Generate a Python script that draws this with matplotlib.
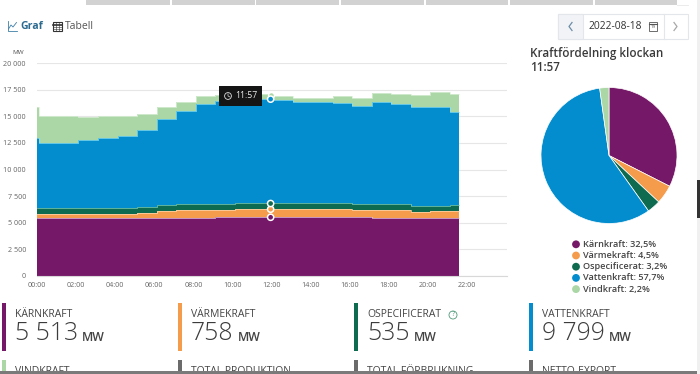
import numpy as np
import matplotlib
matplotlib.use('Agg')
import matplotlib.pyplot as plt
from matplotlib.patches import Rectangle, Circle

plt.rcParams['font.family'] = ['Open Sans', 'DejaVu Sans']

# Hourly production per type, MW (first entry is the start spike at 00:00, last repeats for the end)
times = [0, 0.08, 1.12, 2.12, 3.12, 4.12, 5.12, 6.12, 7.12, 8.12, 9.12, 10.12,
         11.12, 12.12, 13.12, 14.12, 15.12, 16.12, 17.12, 18.12, 19.12, 20.12, 21.12, 21.6]
karnkraft = [5480, 5480, 5480, 5480, 5480, 5480, 5440, 5470, 5480, 5490, 5500, 5500,
             5510, 5510, 5510, 5510, 5510, 5500, 5490, 5480, 5440, 5450, 5400, 5400]
varmekraft = [340, 340, 340, 340, 340, 340, 440, 630, 720, 710, 730, 790,
              780, 760, 760, 760, 760, 700, 710, 720, 540, 620, 700, 700]
ospecificerat = [530, 530, 530, 530, 530, 530, 560, 540, 530, 530, 530, 540,
                 540, 560, 560, 560, 560, 580, 600, 530, 560, 500, 550, 550]
vattenkraft = [6600, 6150, 6150, 6380, 6610, 6800, 7300, 8100, 8760, 9420, 9700, 9670,
               9820, 9730, 9510, 9470, 9460, 9180, 9510, 9420, 9330, 9300, 8720, 8720]
vindkraft = [2950, 2500, 2500, 2220, 2040, 1850, 1440, 1130, 880, 720, 540, 500,
             400, 340, 340, 400, 580, 790, 910, 950, 1130, 1410, 1730, 1730]

names = ['Kärnkraft', 'Värmekraft', 'Ospecificerat', 'Vattenkraft', 'Vindkraft']
colors = ['#761868', '#F59B4C', '#0E6B4F', '#048DCE', '#ABD6A6']
edge_colors = ['#E9C9E4', '#FBD9B4', '#7FD0C0', '#8FE0F0', '#DDF0DA']
pie_pct = [32.5, 4.5, 3.2, 57.7, 2.2]
pct_labels = ['32,5%', '4,5%', '3,2%', '57,7%', '2,2%']

now_hour = 11.95
now_label = '11:57'
now_mw = [5513, 758, 535, 9799, 373]

y_ticks = [0, 2500, 5000, 7500, 10000, 12500, 15000, 17500, 20000]
y_labels = ['0', '2 500', '5 000', '7 500', '10 000', '12 500', '15 000', '17 500', '20 000']
x_ticks = [0, 2, 4, 6, 8, 10, 12, 14, 16, 18, 20, 22]
x_labels = ['00:00', '02:00', '04:00', '06:00', '08:00', '10:00', '12:00', '14:00',
            '16:00', '18:00', '20:00', '22:00']

card_titles = ['KÄRNKRAFT', 'VÄRMEKRAFT', 'OSPECIFICERAT', 'VATTENKRAFT']
card_values = ['5 513', '758', '535', '9 799']
card_colors = [colors[0], colors[1], colors[2], colors[3]]
card_titles2 = ['VINDKRAFT', 'TOTAL PRODUKTION', 'TOTAL FÖRBRUKNING', 'NETTO-EXPORT']
card_colors2 = [colors[4], '#6b6b6b', '#6b6b6b', '#6b6b6b']
card_x = [2, 178, 354, 529]

W, H = 700, 374
fig = plt.figure(figsize=(7.0, 3.74), dpi=100)


def px_axes(left, top, right, bottom, **kw):
    return fig.add_axes([left / W, 1 - bottom / H, (right - left) / W, (bottom - top) / H], **kw)


# page overlay, in pixels
page = px_axes(0, 0, W, H)
page.set_xlim(0, W)
page.set_ylim(H, 0)
page.axis('off')

# main chart
ax = px_axes(37, 63, 507, 276)
ax.set_xlim(0, 470 / 19.55)
ax.set_ylim(0, 20000)
ax.patch.set_alpha(0)
bottom = np.zeros(len(times))
for vals, c, ec in zip([karnkraft, varmekraft, ospecificerat, vattenkraft, vindkraft], colors, edge_colors):
    top = bottom + np.array(vals)
    ax.fill_between(times, bottom, top, step='post', color=c, lw=0, zorder=2)
    ax.step(times, top, where='post', color=ec, lw=0.5, zorder=3)
    bottom = top
ax.set_yticks(y_ticks)
ax.set_yticklabels(y_labels)
ax.set_xticks(x_ticks)
ax.set_xticklabels(x_labels)
ax.tick_params(axis='both', length=0, labelsize=5.2, labelcolor='#666666', pad=4)
ax.tick_params(axis='y', pad=8)
ax.grid(axis='y', color='#e6e6e6', lw=0.8, zorder=0)
for s in ['top', 'right', 'left']:
    ax.spines[s].set_visible(False)
ax.spines['bottom'].set_color('#d8d8d8')
ax.spines['bottom'].set_linewidth(0.8)

# hover markers, blue on top of the wind one
stacked = np.cumsum(now_mw)
ax.scatter([now_hour], [stacked[4]], s=18, c=[colors[4]], edgecolors='white', linewidths=1.0, zorder=5)
ax.scatter([now_hour] * 4, stacked[:4], s=20, c=colors[:4], edgecolors='white', linewidths=1.1, zorder=6)

page.text(18, 52.5, 'MW', fontsize=4.6, color='#555555', ha='center', va='center')

# tooltip
ax_tip = px_axes(219, 86, 262, 105.5)
ax_tip.set_xlim(219, 262)
ax_tip.set_ylim(105.5, 86)
ax_tip.axis('off')
ax_tip.add_patch(Rectangle((219, 86), 43, 19.5, color='#151515'))
ax_tip.add_patch(Circle((228, 96), 3.4, fill=False, ec='#dddddd', lw=0.6))
ax_tip.plot([228, 228, 230], [93.8, 96, 97], color='#dddddd', lw=0.5)
ax_tip.text(235, 96, now_label, color='#eeeeee', fontsize=6.2, va='center', ha='left')

# pie
pie = px_axes(541, 87.5, 677, 223.5)
pie.pie(pie_pct, colors=colors, startangle=90, counterclock=False, radius=1,
        wedgeprops={'edgecolor': 'white', 'linewidth': 0.5})
pie.set_xlim(-1, 1)
pie.set_ylim(-1, 1)

page.text(530, 53.5, 'Kraftfördelning klockan', fontsize=8.35, fontweight='semibold', color='#3a3a3a', va='center')
page.text(530, 67, now_label, fontsize=8.35, fontweight='semibold', color='#3a3a3a', va='center')

for i, (n, c, p) in enumerate(zip(names, colors, pct_labels)):
    y = 244.3 + i * 11.2
    page.add_patch(Circle((576, y), 3.9, color=c, lw=0))
    page.text(583, y, n + ': ' + p, fontsize=6.6, fontweight='semibold', color='#444444', va='center')

# top strip
strip = [(86, 170), (172, 254.5), (256, 339), (341, 424), (426, 508), (510, 592.5), (595, 677)]
for a, b in strip:
    page.add_patch(Rectangle((a, 0), b - a, 5, color='#d2d2d2', lw=0))
page.plot([677, 688], [5, 5], color='#e8e8e8', lw=0.6)

# Graf / Tabell
page.plot([7.5, 7.5, 16.5], [21, 31, 31], color='#3f7fa6', lw=0.6)
page.plot([8.5, 11, 13, 16.5], [29, 25, 27, 22.5], color='#3f7fa6', lw=0.6)
page.text(20.5, 26, 'Graf', fontsize=7.6, fontweight='bold', color='#2c6a90', va='center')
page.add_patch(Rectangle((53, 22), 9, 8.5, fc='white', ec='#333333', lw=0.8))
page.plot([53, 62], [24.5, 24.5], color='#333333', lw=1.2)
for yy in (26.5, 28.5):
    page.plot([53, 62], [yy, yy], color='#333333', lw=0.4)
for xx in (56, 59):
    page.plot([xx, xx], [22, 30.5], color='#333333', lw=0.4)
page.text(65, 26, 'Tabell', fontsize=7.5, color='#555555', va='center')

# date picker
page.add_patch(Rectangle((558, 14), 130, 24.5, fc='white', ec='#e3e6ea', lw=0.8))
page.add_patch(Rectangle((558, 14), 25, 24.5, fc='#f1f3f7', ec='#e3e6ea', lw=0.8))
page.plot([663.5, 663.5], [14, 38.5], color='#e3e6ea', lw=0.8)
page.plot([572, 569, 572], [22.5, 26.5, 30.5], color='#6c8ca8', lw=0.9)
page.plot([674, 677, 674], [22.5, 26.5, 30.5], color='#a8a8a8', lw=0.9)
page.text(588.5, 26.3, '2022-08-18', fontsize=7.4, color='#333333', va='center')
page.add_patch(Rectangle((648.5, 21.5), 8.5, 9, fc='white', ec='#555555', lw=0.6))
page.plot([648.5, 657], [23.5, 23.5], color='#555555', lw=0.8)
page.text(652.8, 27.3, '19', fontsize=3.2, color='#555555', ha='center', va='center')

# stat cards
for x, t, v, c in zip(card_x, card_titles, card_values, card_colors):
    page.add_patch(Rectangle((x, 303), 4.3, 48, color=c, lw=0))
    page.text(x + 13, 314.5, t, fontsize=7.5, color='#444444', va='center')
    txt = page.text(x + 13, 334, v, fontsize=17.8, color='#3c3c3c', va='center', fontweight='light')
    fig.canvas.draw()
    ext = txt.get_window_extent()
    page.text(ext.x1 + 4, 337.7, 'MW', fontsize=8.8, color='#444444', va='center', fontweight='semibold')
page.add_patch(Circle((453, 315), 4, fill=False, ec='#4f9a7a', lw=0.6))
page.text(453, 315, '?', fontsize=5, color='#4f9a7a', ha='center', va='center')

for x, t, c in zip(card_x, card_titles2, card_colors2):
    page.add_patch(Rectangle((x, 360), 4.3, 12, color=c, lw=0))
    page.text(x + 13, 371.5, t, fontsize=7.5, color='#444444', va='center')

# window edges
page.add_patch(Rectangle((0, 371), W, 3, color='#7a7a7a', lw=0, zorder=6))
page.add_patch(Rectangle((697, 0), 3, H, color='#f0f0f0', lw=0, zorder=6))
page.add_patch(Rectangle((697, 180), 3, 38, color='#333333', lw=0, zorder=7))

fig.savefig('out.png', dpi=100)
